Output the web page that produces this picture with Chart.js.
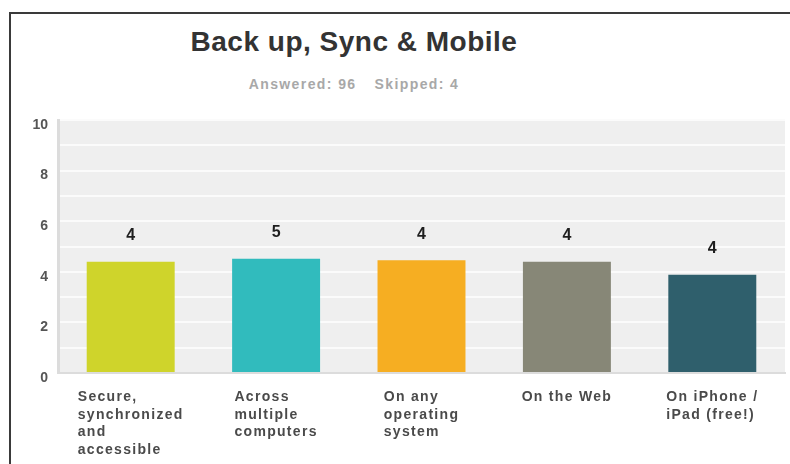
<!DOCTYPE html>
<html>
<head>
<meta charset="utf-8">
<script src="https://cdn.jsdelivr.net/npm/chart.js@4"></script>
<style>
html, body { margin:0; padding:0; width:790px; height:464px; overflow:hidden; background:#fff; font-family:"Liberation Sans", Arial, sans-serif; }
#frame { position:absolute; left:9px; top:12px; width:820px; height:500px; border:2px solid #3a3a3a; }
#title { position:absolute; left:154px; width:400px; top:26px; line-height:32px; text-align:center; font-weight:bold; font-size:28px; letter-spacing:0.5px; color:#333; }
#sub { position:absolute; left:154px; width:400px; top:76px; line-height:16px; text-align:center; font-weight:bold; font-size:14px; letter-spacing:1.4px; color:#a8a8a8; }
#sub span + span { margin-left:18px; }
#wrap { position:absolute; left:0; top:0; width:790px; height:464px; }
</style>
</head>
<body>
<div id="frame"></div>
<div id="title">Back up, Sync &amp; Mobile</div>
<div id="sub"><span>Answered: 96</span><span>Skipped: 4</span></div>
<div id="wrap"><canvas id="backupChart"></canvas></div>
<script>
// answer options (wrapped the way the survey shows them)
var categories = [
	['Secure,', 'synchronized', 'and', 'accessible'],
	['Across', 'multiple', 'computers'],
	['On any', 'operating', 'system'],
	['On the Web'],
	['On iPhone /', 'iPad (free!)']
];
// average rating per option
var averages = [4.40, 4.52, 4.46, 4.40, 3.88];
// the numbers printed above the bars
var valueLabels = ['4', '5', '4', '4', '4'];
var barColors = ['#cfd42b', '#31bbbd', '#f6ae22', '#878777', '#2f5f6c'];
var yMax = 10;

var plotBg = {
	id: 'plotBg',
	beforeDraw: function (chart) {
		var a = chart.chartArea, ctx = chart.ctx;
		ctx.save();
		ctx.fillStyle = '#efefef';
		ctx.fillRect(a.left, a.top, a.right - a.left, a.bottom - a.top);
		ctx.restore();
	}
};

var barValues = {
	id: 'barValues',
	afterDatasetsDraw: function (chart) {
		var ctx = chart.ctx;
		var bars = chart.getDatasetMeta(0).data;
		ctx.save();
		ctx.font = 'bold 16px "Liberation Sans", Arial, sans-serif';
		ctx.fillStyle = '#1e1e1e';
		ctx.textAlign = 'center';
		ctx.textBaseline = 'middle';
		bars.forEach(function (bar, i) {
			ctx.fillText(valueLabels[i], bar.x, bar.y - 26);
		});
		ctx.restore();
	}
};

// category labels: block centred on the tick, lines left aligned
var xLabels = {
	id: 'xLabels',
	afterDraw: function (chart) {
		var ctx = chart.ctx, xs = chart.scales.x;
		ctx.save();
		ctx.font = 'bold 14px "Liberation Sans", Arial, sans-serif';
		ctx.letterSpacing = '1.3px';
		ctx.fillStyle = '#4a4a4a';
		ctx.textAlign = 'left';
		ctx.textBaseline = 'middle';
		categories.forEach(function (lines, i) {
			var cx = xs.getPixelForValue(i);
			var w = Math.max.apply(null, lines.map(function (l) { return ctx.measureText(l).width; }));
			lines.forEach(function (l, j) {
				ctx.fillText(l, cx - w / 2, xs.top + 24 + j * 17.7);
			});
		});
		ctx.restore();
	}
};

var ctx = document.getElementById('backupChart').getContext('2d');
var backupChart = new Chart(ctx, {
	type: 'bar',
	data: {
		labels: categories,
		datasets: [{
			data: averages,
			backgroundColor: barColors,
			borderWidth: 0,
			barPercentage: 0.605,
			categoryPercentage: 1
		}]
	},
	options: {
		responsive: true,
		maintainAspectRatio: false,
		animation: false,
		layout: { padding: { top: 120, right: 5, bottom: 0, left: 8 } },
		plugins: {
			legend: { display: false },
			tooltip: { enabled: false }
		},
		scales: {
			x: {
				grid: { display: false },
				border: { color: '#dcdcdc', width: 2 },
				ticks: { display: false },
				afterFit: function (s) { s.height = 91; }
			},
			y: {
				min: 0,
				max: yMax,
				grid: { color: '#fbfbfb', lineWidth: 2, drawTicks: false },
				border: { color: '#dcdcdc', width: 3 },
				ticks: {
					stepSize: 1,
					padding: 10,
					labelOffset: 5,
					color: '#555',
					font: { size: 14, weight: 'bold', family: '"Liberation Sans", Arial, sans-serif' },
					callback: function (v) { return v % 2 === 0 ? v : ''; }
				},
				afterFit: function (s) { s.width = 50; }
			}
		}
	},
	plugins: [plotBg, barValues, xLabels]
});
</script>
</body>
</html>
